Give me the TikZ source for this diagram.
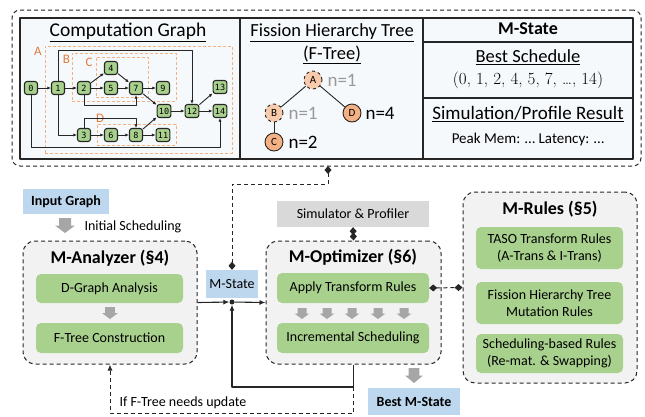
\documentclass[tikz,border=0pt]{standalone}
\usepackage{fontspec}
\setmainfont{Carlito}
\newfontfamily\gmono{DejaVu Sans Mono}
\newfontfamily\lmr{Latin Modern Roman}
\usetikzlibrary{arrows.meta}
\definecolor{gfill}{HTML}{A9D18E}
\definecolor{mbg}{HTML}{F2F2F2}
\definecolor{bfill}{HTML}{BDD7EE}
\definecolor{sfill}{HTML}{D9D9D9}
\definecolor{agray}{HTML}{A6A6A6}
\definecolor{pfill}{HTML}{F6F9FC}
\definecolor{olab}{HTML}{E07B3A}
\definecolor{odash}{HTML}{F4B183}
\definecolor{tlight}{HTML}{F8CBAD}
\definecolor{tdark}{HTML}{F4B183}
\definecolor{ngray}{HTML}{999999}
\definecolor{dk}{HTML}{262626}
\newcommand\grayarrow[4]{% x, ytop, height, width
  \fill[agray] ({#1-0.3*#4},#2) -- ({#1+0.3*#4},#2) -- ({#1+0.3*#4},{#2+0.5*#3}) -- ({#1+0.5*#4},{#2+0.5*#3}) -- (#1,{#2+#3}) -- ({#1-0.5*#4},{#2+0.5*#3}) -- ({#1-0.3*#4},{#2+0.5*#3}) -- cycle;}
\begin{document}
\begin{tikzpicture}[x=1pt,y=-1pt,line join=round,
 gnode/.style={draw=dk, fill=gfill, line width=1.1pt, rounded corners=2.5pt, minimum width=13pt, minimum height=13pt, inner sep=1.8pt, font=\gmono\fontsize{8.5}{9}\selectfont},
 garr/.style={-{Latex[length=3.6pt,width=3.2pt]}, line width=0.9pt, draw=dk},
 obox/.style={draw=odash, dash pattern=on 3pt off 2pt, line width=1pt, inner sep=0pt},
 olbl/.style={text=olab, font=\fontsize{13}{15}\selectfont},
 panel/.style={draw=dk, fill=pfill, line width=1.1pt, inner sep=0pt},
 ptitle/.style={font=\fontsize{18.5}{21}\selectfont},
 tcirc/.style={circle, draw=dk, line width=0.9pt, minimum size=18pt, inner sep=0pt, font=\fontsize{11}{12}\selectfont},
 tlbl/.style={anchor=west, font=\fontsize{19}{21}\selectfont},
 mbox/.style={draw=dk, dash pattern=on 4pt off 3pt, line width=1pt, fill=mbg, rounded corners=12pt, inner sep=0pt},
 gbox/.style={fill=gfill, rounded corners=5pt, inner sep=0pt, align=center, font=\fontsize{14}{16.5}\selectfont},
 mtitle/.style={font=\bfseries\fontsize{18}{21}\selectfont},
 conn/.style={line width=1.1pt, draw=dk},
 arr/.style={-{Latex[length=6pt,width=5pt]}},
 dconn/.style={line width=1pt, draw=dk, dash pattern=on 4pt off 3pt},
 dia/.style={{Diamond[length=8pt,width=7pt]}-{Diamond[length=8pt,width=7pt]}},
 txt/.style={font=\fontsize{14}{16}\selectfont},
 btxt/.style={font=\bfseries\fontsize{14}{16}\selectfont},
]
\useasboundingbox (0,0) rectangle (645,416);

% ---------- top region ----------
\node[draw=dk, dash pattern=on 4pt off 3pt, line width=1pt, rounded corners=8pt, fill=white, minimum width=629pt, minimum height=156pt, inner sep=0pt] (top) at (326.5,88) {};
\node[panel, minimum width=220pt, minimum height=141pt] (cgp) at (130,88.5) {};
\node[panel, minimum width=183pt, minimum height=141pt] (ftp) at (331.5,88.5) {};
\node[panel, minimum width=210pt, minimum height=141pt] (msp) at (528,88.5) {};
\draw[line width=1.1pt, draw=dk] (423,42) -- (633,42);
\draw[line width=1.1pt, draw=dk] (423,98) -- (633,98);

\node[font=\fontsize{19.5}{21}\selectfont] (cgt) at (128,32) {\underline{Computation Graph}};
\node[ptitle] (ftt1) at (332,33) {\underline{Fission Hierarchy Tree}};
\node[ptitle] (ftt2) at (332,55) {\underline{(F-Tree)}};
\node[font=\bfseries\fontsize{18}{21}\selectfont] (mst) at (528,29) {M-State};
\node[ptitle] (bst) at (528,57) {\underline{Best Schedule}};
\node[font=\lmr\fontsize{17}{19}\selectfont] (bsv) at (528,80) {(0, 1, 2, 4, 5, 7, …, 14)};
\node[font=\fontsize{19}{21}\selectfont] (spr) at (528,114) {\underline{Simulation/Profile Result}};
\node[font=\fontsize{15}{17}\selectfont] (spv) at (528,139) {Peak Mem: … Latency: …};

% orange dashed groups
\node[obox, minimum width=187pt, minimum height=107pt] (boxA) at (138.5,99.5) {};
\node[obox, minimum width=104pt, minimum height=48pt] (boxB) at (124,77) {};
\node[obox, minimum width=52pt, minimum height=40pt] (boxC) at (122,77) {};
\node[obox, minimum width=79pt, minimum height=21pt] (boxD) at (136.5,134.5) {};
\node[olbl] (lA) at (38,51) {A};
\node[olbl] (lB) at (66.5,59) {B};
\node[olbl] (lC) at (89,62) {C};
\node[olbl] (lD) at (100,118.5) {D};

% graph nodes
\node[gnode] (g0) at (31,88) {0};
\node[gnode] (g1) at (58,88) {1};
\node[gnode] (g2) at (84,88) {2};
\node[gnode] (g4) at (111,68) {4};
\node[gnode] (g5) at (111,88) {5};
\node[gnode] (g7) at (136,88) {7};
\node[gnode] (g9) at (163,88) {9};
\node[gnode] (g10) at (164,111) {10};
\node[gnode] (g12) at (192,111) {12};
\node[gnode] (g13) at (220,87) {13};
\node[gnode] (g14) at (220,111) {14};
\node[gnode] (g3) at (84,135) {3};
\node[gnode] (g6) at (111,135) {6};
\node[gnode] (g8) at (136,135) {8};
\node[gnode] (g11) at (163,135) {11};

\draw[garr] (g0) -- (g1);
\draw[garr] (g1) -- (g2);
\draw[garr] (g2) -- (g4);
\draw[garr] (g2) -- (g5);
\draw[garr] (g4) -- (g7);
\draw[garr] (g5) -- (g7);
\draw[garr] (g7) -- (g9);
\draw[garr] (g7) -- (g10);
\draw[garr] (g8) -- (g10);
\draw[garr] (g10) -- (g12);
\draw[garr] (g12) -- (g13);
\draw[garr] (g12) -- (g14);
\draw[garr] (g3) -- (g6);
\draw[garr] (g6) -- (g8);
\draw[garr] (g8) -- (g11);
\coordinate (c1) at (58,50);
\coordinate (c2) at (84,105);
\coordinate (c3) at (84,118);
\coordinate (c4) at (31,147);
\draw[garr] (g1.north) -- (c1) -| (g12.north);
\draw[garr] (g1.south) |- (g3.west);
\draw[garr] (g2.south) -- (c2) -| (g7.south);
\draw[garr] (g3.north) -- (c3) -| (g8.north);
\draw[garr] (g0.south) -- (c4) -| (g14.south);

% F-tree
\node[tcirc, dashed, fill=tlight] (tA) at (313,80) {A};
\node[tcirc, dashed, fill=tlight] (tB) at (274,113) {B};
\node[tcirc, fill=tdark] (tD) at (352,113) {D};
\node[tcirc, fill=tdark] (tC) at (274,142) {C};
\draw[conn, line width=0.9pt] (tA) -- (tB);
\draw[conn, line width=0.9pt] (tA) -- (tD);
\draw[conn, line width=0.9pt] (tB) -- (tC);
\node[tlbl, text=ngray] (tAn) at (324,80) {n=1};
\node[tlbl, text=ngray] (tBn) at (285,113) {n=1};
\node[tlbl] (tDn) at (362,113) {n=4};
\node[tlbl] (tCn) at (285,142) {n=2};

% ---------- lower region ----------
\node[fill=bfill, minimum width=86pt, minimum height=25pt, btxt] (input) at (66,201.5) {Input Graph};
\grayarrow{65}{218}{15}{20}
\node[txt, anchor=west] (initl) at (81,227) {Initial Scheduling};

\node[mbox, minimum width=174pt, minimum height=123pt] (manal) at (110,302.5) {};
\node[mtitle] (manalt) at (110,258) {M-Analyzer (§4)};
\node[gbox, minimum width=147pt, minimum height=29pt] (dga) at (109.5,288.5) {D-Graph Analysis};
\grayarrow{110}{307}{12}{16}
\node[gbox, minimum width=147pt, minimum height=30pt] (ftc) at (109.5,338) {F-Tree Construction};

\node[fill=bfill, minimum width=52pt, minimum height=28pt, txt] (mstate) at (232,284) {M-State};
\node[circle, fill=dk, inner sep=0pt, minimum size=5pt] (jdot) at (232,302) {};

\node[fill=sfill, minimum width=152pt, minimum height=26pt, txt] (sim) at (353,214) {Simulator \& Profiler};
\node[mbox, minimum width=175pt, minimum height=123pt] (mopt) at (353.5,302.5) {};
\node[mtitle] (mopttitle) at (353,257) {M-Optimizer (§6)};
\node[gbox, minimum width=152pt, minimum height=30pt] (apply) at (353,288) {Apply Transform Rules};
\grayarrow{302}{308}{11}{15}
\grayarrow{327}{308}{11}{15}
\grayarrow{352}{308}{11}{15}
\grayarrow{378}{308}{11}{15}
\grayarrow{404}{308}{11}{15}
\node[gbox, minimum width=152pt, minimum height=30pt] (incs) at (353,338) {Incremental Scheduling};
\node[fill=bfill, minimum width=92pt, minimum height=27pt, btxt] (best) at (414,401.5) {Best M-State};
\grayarrow{414}{368}{15}{18}

\node[mbox, minimum width=174pt, minimum height=191pt] (mrules) at (550,287.5) {};
\node[mtitle] (mrulest) at (550,209) {M-Rules (§5)};
\node[gbox, minimum width=147pt, minimum height=42pt] (taso) at (549.5,248) {TASO Transform Rules\\(A-Trans \& I-Trans)};
\node[gbox, minimum width=147pt, minimum height=42pt] (fhr) at (549.5,303) {Fission Hierarchy Tree\\Mutation Rules};
\node[gbox, minimum width=147pt, minimum height=39pt] (sbr) at (549.5,353.5) {Scheduling-based Rules\\(Re-mat. \& Swapping)};

% connectors
\coordinate (e1) at (232,184);
\coordinate (e2) at (328,184);
\coordinate (tj) at (328,166);
\coordinate (lp) at (232,387);
\coordinate (fb0) at (353.5,387);
\coordinate (fb1) at (353.5,413);
\coordinate (fb2) at (110,413);
\draw[conn, arr] (manal.east) -- (jdot);
\draw[conn, arr] (jdot) -- (mopt.west);
\draw[conn, arr] (mopt.south) |- (lp) -- (jdot);
\draw[dconn, arr] (fb0) -- (fb1) -- (fb2) -- (manal.south);
\draw[dconn, dia] (mstate.north) -- (e1) -- (e2) -- (tj);
\draw[dconn, dia] (sim.south) -- (mopt.north);
\draw[dconn, dia] (apply.east) -- (mrules.west);
\node[txt] (fbl) at (183,403) {If F-Tree needs update};
\end{tikzpicture}
\end{document}
